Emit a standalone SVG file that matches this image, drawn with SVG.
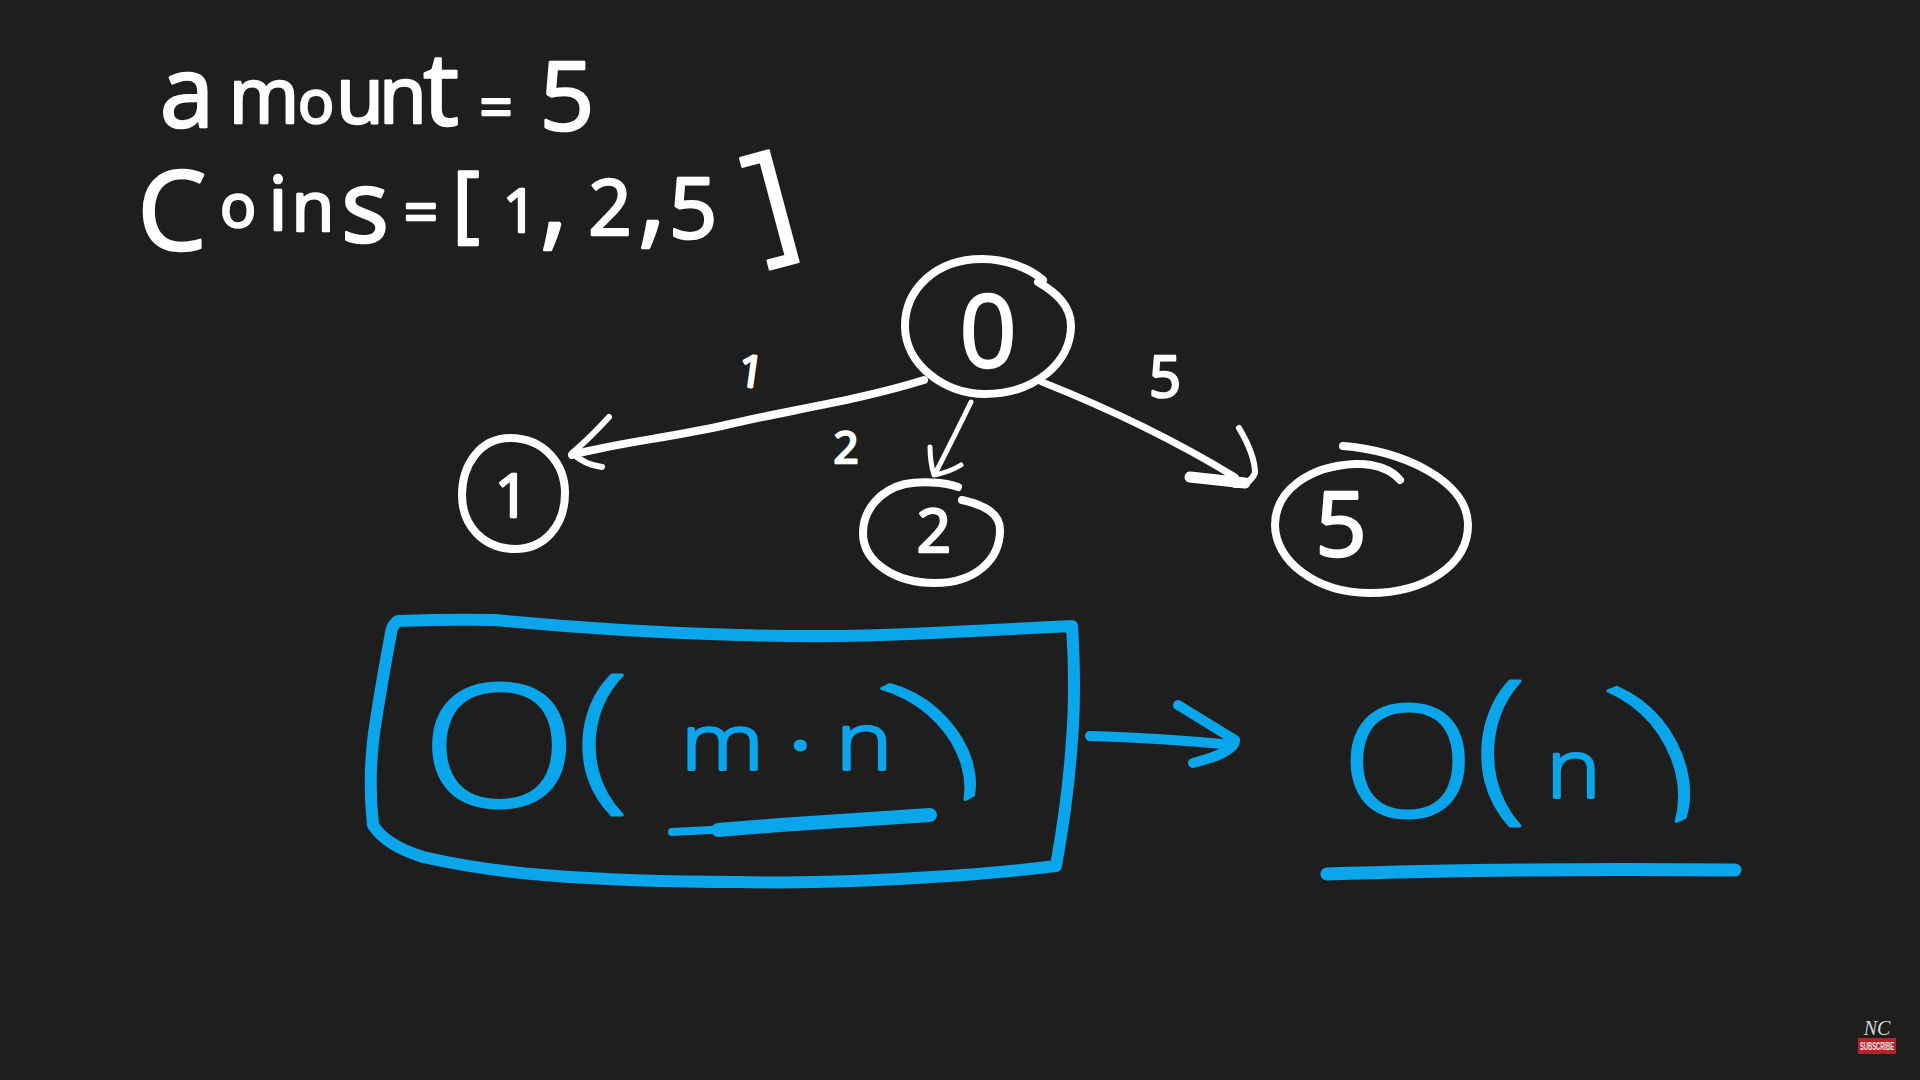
<svg xmlns="http://www.w3.org/2000/svg" width="1920" height="1080" viewBox="0 0 1920 1080">
<style>
.w{fill:none;stroke:#fff;stroke-linecap:round;stroke-linejoin:round}
.b{fill:none;stroke:#0aa5ea;stroke-linecap:round;stroke-linejoin:round}
.tw{font-family:"Open Sans","Liberation Sans",sans-serif;font-weight:400;fill:#fff;stroke:#fff;stroke-width:2.5;stroke-linejoin:round;text-anchor:middle}
.tb{font-family:"Open Sans","Liberation Sans",sans-serif;font-weight:300;fill:#0aa5ea;stroke:#0aa5ea;stroke-width:3;stroke-linejoin:round;text-anchor:middle}
</style>
<rect width="1920" height="1080" fill="#1e1e1e"/>
<g id="givens">
<text class="tw"><tspan x="187" y="127" font-size="98">a</tspan><tspan x="264" y="123" font-size="76">m</tspan><tspan x="316" y="123" font-size="60">o</tspan><tspan x="360" y="123" font-size="78">u</tspan><tspan x="403" y="123" font-size="78">n</tspan><tspan x="441" y="125" font-size="100">t</tspan><tspan x="496" y="128" font-size="58">=</tspan><tspan x="567" y="130" font-size="96">5</tspan></text>
<text class="tw"><tspan x="172" y="250" font-size="110">C</tspan><tspan x="238" y="227" font-size="60">o</tspan><tspan x="278" y="230" font-size="75">i</tspan><tspan x="313" y="231" font-size="70">n</tspan><tspan x="365" y="242" font-size="100">s</tspan><tspan x="421" y="233" font-size="60">=</tspan><tspan x="466" y="232" font-size="84">[</tspan><tspan x="520" y="232" font-size="60">1</tspan><tspan x="554" y="236" font-size="110">,</tspan><tspan x="610" y="235" font-size="76">2</tspan><tspan x="652" y="234" font-size="110">,</tspan><tspan x="693" y="238" font-size="85">5</tspan><tspan x="783" y="250" font-size="132" rotate="-15">]</tspan></text>
</g>
<g id="connectors">
<path class="w" stroke-width="8" d="M924,380C860,400 790,410 730,424S620,442 572,455"/>
<path class="w" stroke-width="6" d="M609,417Q590,438 572,453Q585,465 602,467"/>
<path class="w" stroke-width="5" d="M971,402Q955,435 936,472"/>
<path class="w" stroke-width="5" d="M930,447Q930,462 934,475Q950,472 961,465"/>
<path class="w" stroke-width="7" d="M1042,382Q1150,425 1235,477"/>
<path class="w" stroke-width="6" d="M1239,428Q1255,455 1255,473Q1250,485 1235,485"/>
<path class="w" stroke-width="11" d="M1190,477L1245,483"/>
</g>
<g id="edge-labels">
<text class="tw" x="749" y="385" font-size="44" stroke-width="0" rotate="8">1</text>
<text class="tw" x="846" y="463" font-size="44" stroke-width="1">2</text>
<text class="tw" x="1165" y="397" font-size="56">5</text>
</g>
<g id="node-0">
<path class="w" stroke-width="8" d="M1043,280C1030,268 1005,259 982,259C935,259 905,290 905,326C905,365 945,394 985,394C1035,394 1071,362 1071,326C1071,305 1055,292 1038,282"/>
<text class="tw" x="988" y="367" font-size="100">0</text>
</g>
<g id="node-1">
<path class="w" stroke-width="8" d="M510,438C545,438 565,465 565,493C565,525 545,549 515,549C483,549 462,525 462,495C462,465 480,438 510,438Z"/>
<text class="tw" x="512" y="517" font-size="60" stroke-width="0">1</text>
</g>
<g id="node-2">
<path class="w" stroke-width="8" d="M958,487C945,482 920,481 905,484C880,490 863,510 863,533C863,562 895,583 935,583C975,583 1000,560 1000,530C1000,515 988,506 962,500"/>
<text class="tw" x="934" y="552" font-size="60">2</text>
</g>
<g id="node-5">
<path class="w" stroke-width="8" d="M1343,446C1400,450 1468,480 1468,525C1468,565 1425,593 1370,593C1315,593 1275,560 1275,525C1275,490 1310,466 1355,464C1375,463 1392,470 1400,480"/>
<text class="tw" x="1341" y="556" font-size="90">5</text>
</g>
<g id="complexity-box">
<path class="b" stroke-width="12" d="M398,621Q450,619 495,620Q620,632 738,635Q840,638 932,633L1072,626M1072,626Q1076,690 1072,740Q1068,800 1056,866Q990,874 932,877Q830,884 738,882Q630,882 544,875Q480,870 423,857Q385,845 373,825Q368,780 374,733Q382,680 391,633Q392,625 398,621"/>
<text class="tb" transform="scale(1.2 1)"><tspan x="416" y="806" font-size="170">O</tspan><tspan x="502" y="790" font-size="160">(</tspan><tspan x="602" y="770" font-size="78">m</tspan><tspan x="667" y="778" font-size="100">·</tspan><tspan x="720" y="770" font-size="80">n</tspan><tspan x="808" y="782" font-size="150" rotate="-32">)</tspan></text>
<path class="b" stroke-width="8" d="M672,832L730,829"/>
<path class="b" stroke-width="14" d="M718,830L780,825L930,815"/>
</g>
<g id="optimize-arrow">
<path class="b" stroke-width="10" d="M1090,736Q1160,738 1233,745"/>
<path class="b" stroke-width="10" d="M1178,705L1235,740Q1236,752 1193,763"/>
</g>
<g id="complexity-result">
<text class="tb" transform="scale(1.12 1)"><tspan x="1257" y="816" font-size="155">O</tspan><tspan x="1340" y="800" font-size="167">(</tspan><tspan x="1405" y="797" font-size="82">n</tspan><tspan x="1503" y="800" font-size="165" rotate="-25">)</tspan></text>
<path class="b" stroke-width="13" d="M1327,874Q1500,868 1735,870"/>
</g>
<g id="subscribe-badge">
<text x="1877" y="1035" font-family="'Liberation Serif',serif" font-style="italic" font-size="20" fill="#d8d8d8" text-anchor="middle">NC</text>
<rect x="1858" y="1038" width="38" height="16" fill="#b5232a"/>
<text x="1877" y="1050" font-family="'Liberation Sans',sans-serif" font-weight="700" font-size="10" fill="#f2e6e6" text-anchor="middle" textLength="34" lengthAdjust="spacingAndGlyphs">SUBSCRIBE</text>
</g>
</svg>
